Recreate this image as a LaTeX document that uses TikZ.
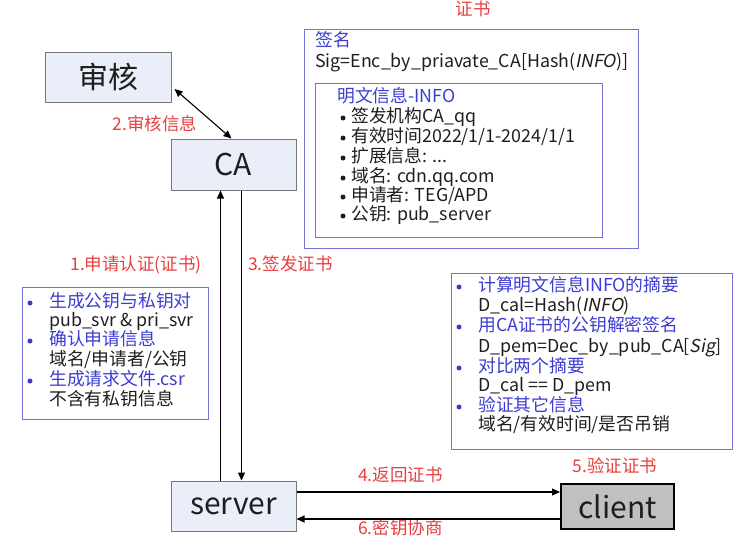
\documentclass[tikz,border=0pt]{standalone}
\usepackage{fontspec}
\setmainfont{Noto Sans CJK SC}
\newfontfamily\itf[FakeSlant=0.2]{Noto Sans CJK SC}
\usetikzlibrary{arrows.meta,calc}
\definecolor{boxfill}{RGB}{234,238,248}
\definecolor{boxdraw}{RGB}{120,120,120}
\definecolor{infoblue}{RGB}{60,60,210}
\definecolor{infodraw}{RGB}{115,115,215}
\definecolor{labelred}{RGB}{232,62,62}
\definecolor{txt}{RGB}{30,30,30}
\definecolor{clientfill}{RGB}{192,192,192}
\tikzset{
  bigbox/.style={draw=boxdraw, line width=1pt, fill=boxfill, inner sep=0pt, font=\fontsize{30}{32}\selectfont, text=txt},
  clientbox/.style={draw=black, line width=2pt, fill=clientfill, inner sep=0pt, font=\fontsize{30}{32}\selectfont, text=txt},
  infobox/.style={draw=infodraw, line width=1pt, inner sep=0pt},
  ln/.style={anchor=west, inner sep=0pt, text height=13pt, text depth=3pt, font=\fontsize{17.8}{20}\selectfont, text=txt},
  bl/.style={ln, text=infoblue},
  dot/.style={circle, fill=txt, inner sep=0pt, minimum size=5pt},
  bdot/.style={dot, fill=infoblue},
  redlab/.style={inner sep=0pt, text height=13pt, text depth=3pt, font=\fontsize{17.5}{20}\selectfont, text=labelred},
  arr/.style={line width=1.1pt, -{Triangle[width=7pt,length=8pt]}},
  darr/.style={line width=1.1pt, {Triangle[width=7pt,length=8pt]}-{Triangle[width=7pt,length=8pt]}}
}
\begin{document}
\begin{tikzpicture}[x=1pt,y=-1pt]
\useasboundingbox (0,0) rectangle (742,538);
% main boxes
\node[bigbox, minimum width=126pt, minimum height=50pt] (shenhe) at (108,77) {审核};
\node[bigbox, minimum width=125pt, minimum height=51pt] (ca) at (233.5,164.5) {CA};
\node[bigbox, minimum width=125pt, minimum height=50pt] (server) at (233.5,506) {server};
\node[clientbox, minimum width=113pt, minimum height=45pt] (client) at (617.5,506.5) {client};

% certificate
\node[redlab] (certlab) at (473,11) {证书};
\node[infobox, minimum width=334pt, minimum height=219pt] (cert) at (471,138.5) {};
\node[bl] (signame) at (315,41) {签名};
\node[ln] (sig) at (315,62) {Sig=Enc\_by\_priavate\_CA[Hash({\itf INFO})]};
\node[infobox, minimum width=287pt, minimum height=154pt] (info) at (458.5,160) {};
\node[bl] (infot) at (337,97) {明文信息-INFO};
\node[dot] (ib1) at (343,118) {};
\node[ln] (it1) at (351,117) {签发机构CA\_qq};
\node[dot] (ib2) at (343,138) {};
\node[ln] (it2) at (351,137) {有效时间2022/1/1-2024/1/1};
\node[dot] (ib3) at (343,158) {};
\node[ln] (it3) at (351,157) {扩展信息: ...};
\node[dot] (ib4) at (343,178) {};
\node[ln] (it4) at (351,177) {域名: cdn.qq.com};
\node[dot] (ib5) at (343,197) {};
\node[ln] (it5) at (351,196) {申请者: TEG/APD};
\node[dot] (ib6) at (343,216) {};
\node[ln] (it6) at (351,215) {公钥: pub\_server};

% left box
\node[infobox, minimum width=186pt, minimum height=132pt] (req) at (115,353) {};
\node[bdot] (rb1) at (30,303) {};
\node[bl] (rt1) at (49,302) {生成公钥与私钥对};
\node[ln] (rt2) at (49,321) {pub\_svr \& pri\_svr};
\node[bdot] (rb3) at (30,341) {};
\node[bl] (rt3) at (49,340) {确认申请信息};
\node[ln] (rt4) at (49,360) {域名/申请者/公钥};
\node[bdot] (rb5) at (30,381) {};
\node[bl] (rt5) at (49,380) {生成请求文件.csr};
\node[ln] (rt6) at (49,400) {不含有私钥信息};

% right box
\node[infobox, minimum width=281pt, minimum height=176pt] (ver) at (591.5,361) {};
\node[bdot] (vb1) at (459,287) {};
\node[bl] (vt1) at (478,286) {计算明文信息INFO的摘要};
\node[ln] (vt2) at (478,306) {D\_cal=Hash({\itf INFO})};
\node[bdot] (vb3) at (459,327) {};
\node[bl] (vt3) at (478,326) {用CA证书的公钥解密签名};
\node[ln] (vt4) at (478,347) {D\_pem=Dec\_by\_pub\_CA[{\itf Sig}]};
\node[bdot] (vb5) at (459,368) {};
\node[bl] (vt5) at (478,367) {对比两个摘要};
\node[ln] (vt6) at (478,386) {D\_cal == D\_pem};
\node[bdot] (vb7) at (459,407) {};
\node[bl] (vt7) at (478,406) {验证其它信息};
\node[ln] (vt8) at (478,425) {域名/有效时间/是否吊销};

% labels
\node[redlab] (l2) at (155,125) {2.审核信息};
\node[redlab, anchor=east] (l1) at (202,265) {1.申请认证(证书)};
\node[redlab, anchor=west] (l3) at (248,265) {3.签发证书};
\node[redlab, anchor=west] (l4) at (358,476) {4.返回证书};
\node[redlab] (l5) at (615,467) {5.验证证书};
\node[redlab, anchor=west] (l6) at (358,529) {6.密钥协商};

% connectors
\draw[darr] ($(shenhe.east)+(3,12)$) -- ($(ca.north west)+(61,0)$);
\draw[arr] ($(server.north west)+(50,0)$) -- ($(ca.south west)+(50,0)$);
\draw[arr] ($(ca.south west)+(71,0)$) -- ($(server.north west)+(71,0)$);
\draw[arr] ($(server.east)+(0,-14)$) -- ($(client.west)+(0,-14.5)$);
\draw[arr] ($(client.west)+(0,12.5)$) -- ($(server.east)+(0,13)$);
\end{tikzpicture}
\end{document}
